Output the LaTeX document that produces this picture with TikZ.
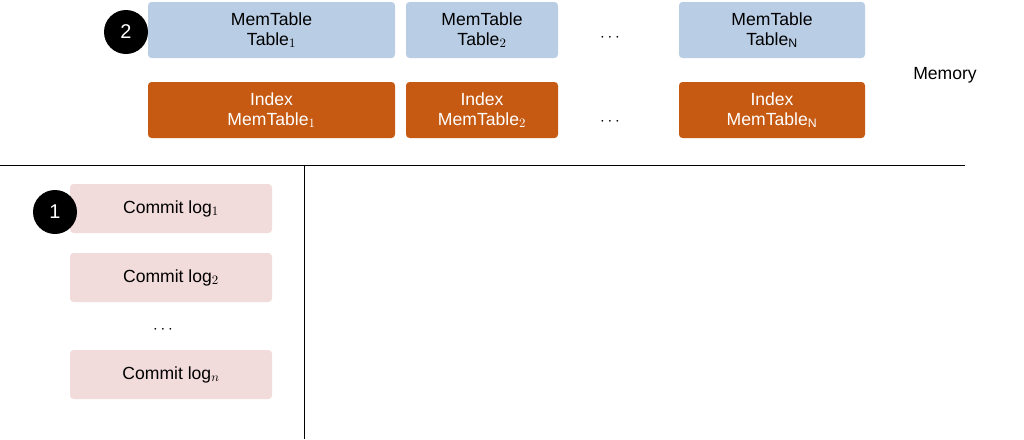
\documentclass[tikz,border=0pt]{standalone}
\usepackage{fontspec}
\setmainfont{Liberation Sans}
\definecolor{memblue}{HTML}{B9CDE5}
\definecolor{idxorange}{HTML}{C65A12}
\definecolor{logpink}{HTML}{F2DCDB}
\tikzset{
  box/.style={rounded corners=3pt, align=center, inner sep=0pt, font=\fontsize{15}{17}\selectfont},
  memtab/.style={box, fill=memblue, text=black, minimum height=56*0.03cm},
  index/.style={box, fill=idxorange, text=white, minimum height=56*0.03cm},
  commit/.style={box, fill=logpink, text=black, minimum width=202*0.03cm, minimum height=49*0.03cm},
  stepmark/.style={circle, fill=black, text=white, minimum size=44*0.03cm, inner sep=0pt, font=\fontsize{17}{17}\selectfont},
  dots/.style={font=\fontsize{15}{17}\selectfont}
}
\begin{document}
\begin{tikzpicture}[x=0.03cm, y=-0.03cm]
\useasboundingbox (0,0) rectangle (1024,439);

% memory tables
\node[memtab, minimum width=247*0.03cm] (mt1) at (271.5,30) {MemTable\\Table$_1$};
\node[memtab, minimum width=152*0.03cm] (mt2) at (482,30) {MemTable\\Table$_2$};
\node[dots] (mtdots) at (610,38) {$\cdots$};
\node[memtab, minimum width=186*0.03cm] (mtn) at (772,30) {MemTable\\Table$_\mathrm{N}$};

\node[index, minimum width=247*0.03cm] (ix1) at (271.5,110) {Index\\MemTable$_1$};
\node[index, minimum width=152*0.03cm] (ix2) at (482,110) {Index\\MemTable$_2$};
\node[dots] (ixdots) at (610,122) {$\cdots$};
\node[index, minimum width=186*0.03cm] (ixn) at (772,110) {Index\\MemTable$_\mathrm{N}$};

\node[dots] (memory) at (945,75) {Memory};
\node[stepmark] (two) at (126,32) {2};

% disk
\draw[thick] (0,165) -- (965,165);
\draw[thick] (304,165) -- (304,439);

\node[commit] (log1) at (171,208.5) {Commit log$_1$};
\node[commit] (log2) at (171,277.5) {Commit log$_2$};
\node[dots] (logdots) at (163,330) {$\cdots$};
\node[commit] (logn) at (171,374.5) {Commit log$_n$};
\node[stepmark] (one) at (55,212) {1};
\end{tikzpicture}
\end{document}
